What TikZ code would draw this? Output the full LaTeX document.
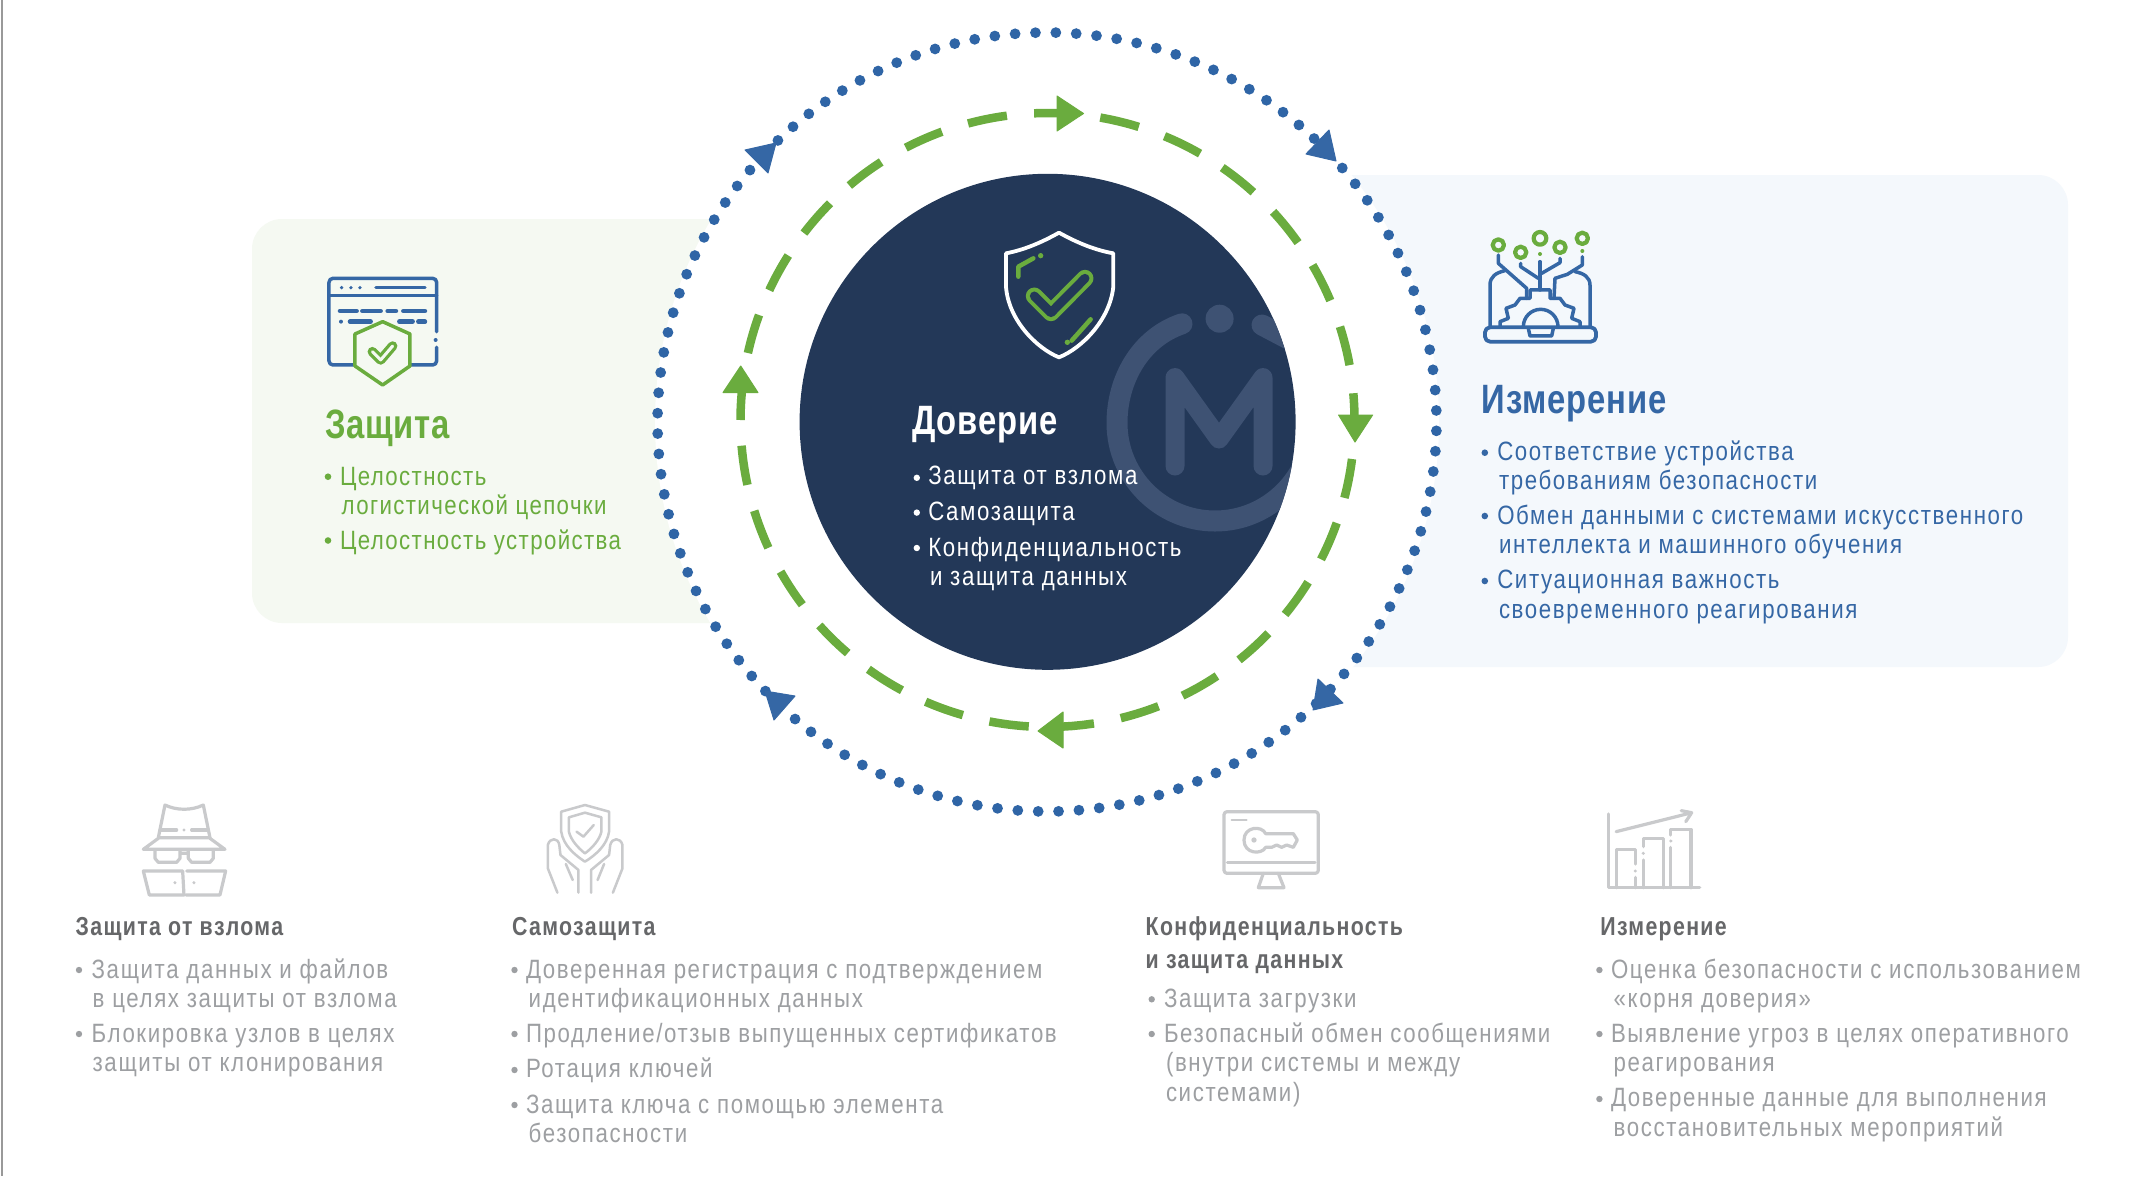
\documentclass[tikz,border=0pt]{standalone}
\usepackage{fontspec}
\newfontfamily\cf[FakeStretch=0.8,LetterSpace=2]{Liberation Sans}
\newfontfamily\cfb[FakeStretch=0.84,LetterSpace=6.1]{Liberation Sans}
\newfontfamily\cfg[FakeStretch=0.84,LetterSpace=5.2]{Liberation Sans}
\newfontfamily\cfh[FakeStretch=0.82,LetterSpace=5.1]{Liberation Sans}
\definecolor{navy}{HTML}{233858}
\definecolor{grn}{HTML}{6AAC3E}
\definecolor{blu}{HTML}{3567A5}
\definecolor{dotb}{HTML}{2F65A6}
\definecolor{pg}{HTML}{F5F9F2}
\definecolor{pb}{HTML}{F4F8FC}
\definecolor{logo}{HTML}{3E5273}
\definecolor{gt}{HTML}{9D9FA2}
\definecolor{gh}{HTML}{666769}
\definecolor{gi}{HTML}{C9CACC}
\tikzset{
 txt/.style={anchor=base west,inner sep=0pt,outer sep=0pt},
 btxt/.style={txt,font=\cfb\fontsize{26.5bp}{30bp}\selectfont},
 gtxt/.style={txt,font=\cfg\fontsize{26.5bp}{30bp}\selectfont,text=grn},
 htxt/.style={txt,font=\cfh\bfseries\fontsize{26bp}{30bp}\selectfont,text=gh},
 ttxt/.style={txt,font=\cf\bfseries\fontsize{41bp}{46bp}\selectfont},
 gdash/.style={draw=grn,line width=8.5bp},
 gicon/.style={draw=gi,line width=3.2bp,line cap=round,line join=round},
 bicon/.style={draw=blu,line width=3.5bp,line cap=round,line join=round},
 ggicon/.style={draw=grn,line width=3.5bp,line cap=round,line join=round},
}
\begin{document}
\begin{tikzpicture}[x=1bp,y=-1bp]
\useasboundingbox (0,0) rectangle (2136,1176);
\fill[white] (0,0) rectangle (2136,1176);
\draw[draw=gray!80,line width=1.5bp] (2,0) -- (2,1176);
% panels
\fill[pg,rounded corners=30bp] (252,219) rectangle (1000,623);
\fill[pb,rounded corners=30bp] (1000,175) rectangle (2068,667);
\fill[white] (1047,422) circle[radius=392];
% dotted ring
\foreach \i in {0,...,119}{
  \fill[dotb] ({1047+389.5*sin(\i*3+1.3)},{422-389.5*cos(\i*3+1.3)}) circle[radius=5.4];
}
\fill[blu,line join=round,draw=blu,line width=1bp] (745,150) -- (776,143) -- (768,173) -- cycle;
\fill[blu,line join=round,draw=blu,line width=1bp] (1329,130) -- (1336,161) -- (1306,154) -- cycle;
\fill[blu,line join=round,draw=blu,line width=1bp] (1318,679) -- (1343,703) -- (1313,710) -- cycle;
\fill[blu,line join=round,draw=blu,line width=1bp] (795,696) -- (765,691) -- (774,720) -- cycle;
% green dashed ring
\foreach \a in {9.9,22.4,34.7,47.3,59.7,72.3,97.3,109.6,121.9,134,146.5,158.8,183.5,196,208.3,220.6,233,245.4,257.8,282.6,295,307.5,319.8,332.5,345}{
  \draw[gdash] plot[domain=\a:\a+7.4,samples=6,smooth] ({1047.5+307*sin(\x)},{420-307*cos(\x)});
}
\foreach \a/\b in {357.5/362,85/89.5,171.3/177.5,270/275.5}{
  \draw[gdash] plot[domain=\a:\b,samples=4] ({1047.5+307*sin(\x)},{420-307*cos(\x)});
}
\fill[grn,draw=grn,line width=1bp,line join=round] (1057,96) -- (1083.5,113.5) -- (1057,131) -- cycle;
\fill[grn,draw=grn,line width=1bp,line join=round] (1338.6,415) -- (1372.6,415) -- (1355,442) -- cycle;
\fill[grn,draw=grn,line width=1bp,line join=round] (1038,731) -- (1063,712) -- (1063,748) -- cycle;
\fill[grn,draw=grn,line width=1bp,line join=round] (740.7,366) -- (723,392.6) -- (758,392.6) -- cycle;
% centre
\node[circle,fill=navy,minimum size=496bp,inner sep=0pt] (trust) at (1047.6,421.8) {};
\begin{scope}
\clip (1047.6,421.8) circle[radius=248];
\draw[logo,line width=21bp,line cap=round] (1182,323.8) .. controls (1140,338) and (1117,380) .. (1117,423) .. controls (1117,477) and (1161,521) .. (1215,521) .. controls (1269,521) and (1313,477) .. (1313,423);
\draw[logo,line width=21bp,line cap=round] (1262,325) -- (1300,345);
\fill[logo] (1219.6,318.7) circle[radius=14];
\draw[logo,line width=19bp,line cap=round,line join=round] (1175,466) -- (1175,377.6) -- (1219,439) -- (1263,377.6) -- (1263,466);
\end{scope}
% centre shield
\begin{scope}[shift={(990,220)},x=.3333bp,y=-.3333bp]
\draw[white,line width=3.8bp,line join=round] (207,38) .. controls (150,70) and (100,90) .. (48,100) -- (48,200) .. controls (55,300) and (140,385) .. (207,412) .. controls (275,385) and (360,300) .. (370,200) -- (370,100) .. controls (315,90) and (265,70) .. (207,38) -- cycle;
\draw[grn,line width=4.5bp,line cap=round,line join=round] (85,170) -- (85,140) -- (130,115);
\fill[grn] (152,107) circle[radius=8];
\draw[grn,line width=4.5bp,line cap=round] (245,362) -- (302,298);
\fill[grn] (232,367) circle[radius=8];
\draw[grn,line width=17bp,line cap=round,line join=round] (133,228) -- (183,278) -- (285,175);
\draw[navy,line width=9bp,line cap=round,line join=round] (133,228) -- (183,278) -- (285,175);
\end{scope}
\node[ttxt,text=white] (t0) at (912.4,434.5) {Доверие};
\foreach \y in {477.8,512.6,548}{\fill[white] (916.8,\y) circle[radius=3.2];}
\node[btxt,text=white] (c1) at (928.3,484.5) {Защита от взлома};
\node[btxt,text=white] (c2) at (928.3,520) {Самозащита};
\node[btxt,text=white] (c3) at (928.3,556) {Конфиденциальность};
\node[btxt,text=white] (c4) at (930,585.5) {и защита данных};
% left panel
\begin{scope}[shift={(240,210)},x=.3333bp,y=-.3333bp]
\draw[bicon,rounded corners=4bp] (345,465) -- (267,465) -- (267,205) -- (590,205) -- (590,365);
\draw[bicon,rounded corners=4bp] (590,412) -- (590,465) -- (512,465);
\draw[bicon] (267,257) -- (590,257);
\foreach \p in {305,333,360}{\fill[blu] (\p,233) circle[radius=5.5];}
\draw[bicon] (408,233) -- (555,233);
\fill[blu] (587,390) circle[radius=6];
\draw[bicon,line width=4.5bp] (300,303) -- (350,303) (367,303) -- (422,303) (443,303) -- (468,303) (490,303) -- (555,303);
\fill[blu] (303,335) circle[radius=6];
\draw[bicon,line width=4.5bp] (330,335) -- (392,335) (478,335) -- (518,335) (535,335) -- (555,335);
\fill[pg] (428,335) -- (510,372) -- (510,468) -- (428,525) -- (345,468) -- (345,372) -- cycle;
\draw[ggicon] (428,335) -- (510,372) -- (510,468) -- (428,525) -- (345,468) -- (345,372) -- cycle;
\draw[grn,line width=9.5bp,line join=round,line cap=round] (397,425) -- (422,450) -- (458,408);
\draw[pg,line width=3bp,line join=round,line cap=round] (397,425) -- (422,450) -- (458,408);
\end{scope}
\node[ttxt,text=grn] (t1) at (325,438) {Защита};
\foreach \y in {476.7,540.5}{\fill[grn] (328,\y) circle[radius=3.3];}
\node[gtxt] (g1) at (340,485) {Целостность};
\node[gtxt] (g2) at (341.7,514) {логистической цепочки};
\node[gtxt] (g3) at (340,549) {Целостность устройства};
% right panel
\begin{scope}[shift={(1480,220)},x=.3333bp,y=-.3333bp]
\draw[bicon,line width=3.8bp,rounded corners=5bp] (15,322) -- (348,322) -- (348,365) -- (15,365) -- cycle;
\draw[bicon] (145,325) -- (150,348) -- (215,348) -- (220,325);
\draw[bicon] (130,320) arc[start angle=180,end angle=360,radius=52];
\draw[bicon] (60,320) -- (60,305) -- (85,295) -- (78,265) -- (105,255) -- (120,235) -- (150,235) -- (150,210) -- (210,210) -- (210,235) -- (240,235) -- (255,255) -- (282,265) -- (275,295) -- (300,305) -- (300,320);
\draw[bicon] (30,320) -- (30,195) .. controls (30,170) and (48,158) .. (75,152);
\draw[bicon] (55,105) -- (55,130) -- (140,205) -- (140,235);
\draw[bicon] (122,130) -- (122,140) -- (175,175);
\draw[bicon] (180,125) -- (180,210);
\draw[bicon] (240,115) -- (240,128) -- (185,160);
\draw[bicon] (307,110) -- (307,135) -- (262,163) -- (225,175) -- (222,235);
\draw[bicon] (330,320) -- (330,195) .. controls (330,172) and (312,160) .. (285,155);
\draw[ggicon,line width=4.2bp] (55,75) circle[radius=17];
\draw[ggicon,line width=4.2bp] (122,97) circle[radius=17];
\draw[ggicon,line width=4.2bp] (180,55) circle[radius=19];
\draw[ggicon,line width=4.2bp] (240,82) circle[radius=17];
\draw[ggicon,line width=4.2bp] (307,55) circle[radius=17];
\fill[grn] (180,102) circle[radius=6];
\fill[grn] (307,93) circle[radius=6];
\end{scope}
\node[ttxt,text=blu] (t2) at (1481.7,413.3) {Измерение};
\foreach \y in {452.7,516,581}{\fill[blu] (1484.8,\y) circle[radius=3.3];}
\node[btxt,text=blu] (b1) at (1497.3,460.7) {Соответствие устройства};
\node[btxt,text=blu] (b2) at (1499,489.7) {требованиям безопасности};
\node[btxt,text=blu] (b3) at (1497.3,524) {Обмен данными с системами искусственного};
\node[btxt,text=blu] (b4) at (1499,553) {интеллекта и машинного обучения};
\node[btxt,text=blu] (b5) at (1497.3,588.5) {Ситуационная важность};
\node[btxt,text=blu] (b6) at (1499,618) {своевременного реагирования};
% column 1
\begin{scope}[shift={(60,790)},x=.3333bp,y=-.3333bp]
\draw[gicon] (315,45) .. controls (350,62) and (395,62) .. (430,45) -- (450,143) -- (295,143) -- cycle;
\draw[gicon] (295,145) -- (250,178) -- (495,178) -- (450,145);
\draw[gicon] (300,120) -- (350,120) (395,120) -- (445,120);
\fill[gi] (372,120) circle[radius=5];
\draw[gicon] (285,180) -- (285,205) -- (295,217) -- (350,217) -- (360,205) -- (360,182) (385,182) -- (385,205) -- (395,217) -- (450,217) -- (460,205) -- (460,180) (360,190) -- (385,190);
\draw[gicon] (250,243) -- (368,243) -- (372,315) -- (268,315) -- cycle;
\draw[gicon] (380,243) -- (497,243) -- (480,315) -- (378,315);
\fill[gi] (345,278) circle[radius=5];
\fill[gi] (402,278) circle[radius=5];
\end{scope}
\node[htxt] (h1) at (75.7,935) {Защита от взлома};
\foreach \y in {970,1034}{\fill[gt] (79,\y) circle[radius=3.2];}
\node[btxt,text=gt] (a1) at (91.7,978.3) {Защита данных и файлов};
\node[btxt,text=gt] (a2) at (92.7,1007.3) {в целях защиты от взлома};
\node[btxt,text=gt] (a3) at (91.7,1042.3) {Блокировка узлов в целях};
\node[btxt,text=gt] (a4) at (92.7,1071.7) {защиты от клонирования};
% column 2
\begin{scope}[shift={(500,790)},x=.3827bp,y=-.3333bp]
\draw[gicon,line width=2.5bp] (222,45) -- (160,65) -- (160,125) .. controls (165,165) and (195,195) .. (222,215) .. controls (250,195) and (280,165) .. (285,125) -- (285,65) -- cycle;
\draw[gicon,line width=2.5bp] (222,68) -- (180,82) -- (180,125) .. controls (185,150) and (205,175) .. (222,190) .. controls (240,175) and (260,150) .. (265,125) -- (265,82) -- cycle;
\draw[gicon,line width=2.5bp] (200,125) -- (218,140) -- (245,105);
\draw[gicon,line width=2.5bp] (150,308) -- (125,235) -- (125,165) .. controls (130,142) and (152,142) .. (155,165) -- (158,195) -- (205,240) -- (205,308);
\draw[gicon,line width=2.5bp] (172,222) -- (190,270);
\draw[gicon,line width=2.5bp] (295,308) -- (320,235) -- (320,165) .. controls (315,142) and (293,142) .. (288,165) -- (285,195) -- (238,240) -- (238,308);
\draw[gicon,line width=2.5bp] (272,222) -- (255,270);
\end{scope}
\node[htxt] (h2) at (512.2,935) {Самозащита};
\foreach \y in {970,1034,1070,1105}{\fill[gt] (514.5,\y) circle[radius=3.2];}
\node[btxt,text=gt] (d1) at (526,978.3) {Доверенная регистрация с подтверждением};
\node[btxt,text=gt] (d2) at (528.7,1007.3) {идентификационных данных};
\node[btxt,text=gt] (d3) at (526,1042.3) {Продление/отзыв выпущенных сертификатов};
\node[btxt,text=gt] (d4) at (526,1077.7) {Ротация ключей};
\node[btxt,text=gt] (d5) at (526,1113.3) {Защита ключа с помощью элемента};
\node[btxt,text=gt] (d6) at (528.7,1142.3) {безопасности};
% column 3
\begin{scope}[shift={(1130,790)},x=.3333bp,y=-.3333bp]
\draw[gicon,rounded corners=3bp] (282,65) rectangle (565,250);
\draw[gicon] (292,218) -- (555,218);
\draw[gicon,line width=2bp] (305,90) -- (350,90);
\draw[gicon] (400,250) -- (385,293) -- (462,293) -- (445,250);
\draw[gicon] (407,131) .. controls (395,105) and (342,110) .. (342,150) .. controls (342,192) and (395,195) .. (407,172) -- (425,172) -- (440,165) -- (455,172) -- (470,165) -- (490,172) -- (502,150) -- (490,131) -- cycle;
\fill[gi] (372,150) circle[radius=8];
\end{scope}
\node[htxt] (h3) at (1145.7,935) {Конфиденциальность};
\node[htxt] (h3b) at (1145.7,968.5) {и защита данных};
\foreach \y in {999.3,1034}{\fill[gt] (1151.7,\y) circle[radius=3.2];}
\node[btxt,text=gt] (e1) at (1164,1007.3) {Защита загрузки};
\node[btxt,text=gt] (e2) at (1164,1042.3) {Безопасный обмен сообщениями};
\node[btxt,text=gt] (e3) at (1166,1071.7) {(внутри системы и между};
\node[btxt,text=gt] (e4) at (1166,1101) {системами)};
% column 4
\begin{scope}[shift={(1590,790)},x=.3482bp,y=-.3333bp]
\draw[gicon] (52,72) -- (52,293) -- (315,293);
\draw[gicon] (75,125) -- (285,70) (262,62) -- (292,68) -- (275,95);
\draw[gicon] (75,293) -- (75,178) -- (130,178) -- (130,222) (130,262) -- (130,293);
\fill[gi] (130,243) circle[radius=5];
\draw[gicon] (153,293) -- (153,210) (153,170) -- (153,145) -- (210,145) -- (210,293);
\fill[gi] (153,190) circle[radius=5];
\draw[gicon] (232,293) -- (232,172) (232,135) -- (232,118) -- (290,118) -- (290,293);
\fill[gi] (232,153) circle[radius=5];
\end{scope}
\node[htxt] (h4) at (1600.4,935) {Измерение};
\foreach \y in {970,1034,1099}{\fill[gt] (1599.4,\y) circle[radius=3.2];}
\node[btxt,text=gt] (f1) at (1611,978.3) {Оценка безопасности с использованием};
\node[btxt,text=gt] (f2) at (1613.7,1007.3) {«корня доверия»};
\node[btxt,text=gt] (f3) at (1611,1042.3) {Выявление угроз в целях оперативного};
\node[btxt,text=gt] (f4) at (1613.7,1071.7) {реагирования};
\node[btxt,text=gt] (f5) at (1611,1106.7) {Доверенные данные для выполнения};
\node[btxt,text=gt] (f6) at (1613.7,1136.7) {восстановительных мероприятий};
\end{tikzpicture}
\end{document}
